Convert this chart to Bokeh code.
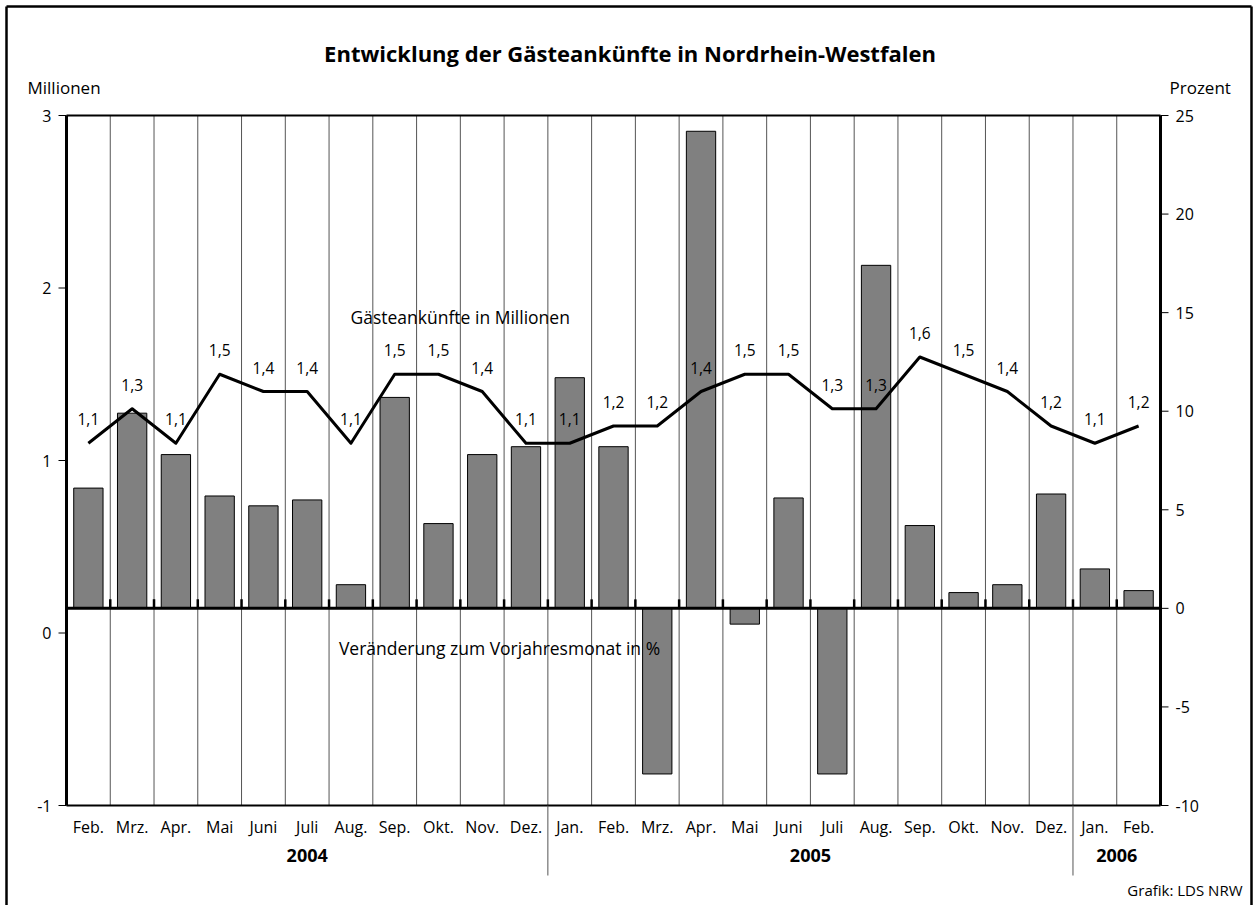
from bokeh.plotting import figure
from bokeh.models import Range1d
from bokeh.embed import file_html
from bokeh.resources import INLINE
from bokeh.core.properties import value

# ---------------- data ----------------
months = ["Feb.", "Mrz.", "Apr.", "Mai", "Juni", "Juli", "Aug.", "Sep.", "Okt.", "Nov.", "Dez.",
          "Jan.", "Feb.", "Mrz.", "Apr.", "Mai", "Juni", "Juli", "Aug.", "Sep.", "Okt.", "Nov.", "Dez.",
          "Jan.", "Feb."]
years = ["2004", "2005", "2006"]
months_per_year = [11, 12, 2]
arrivals_mio = [1.1, 1.3, 1.1, 1.5, 1.4, 1.4, 1.1, 1.5, 1.5, 1.4, 1.1,
                1.1, 1.2, 1.2, 1.4, 1.5, 1.5, 1.3, 1.3, 1.6, 1.5, 1.4, 1.2,
                1.1, 1.2]
change_pct = [6.1, 9.9, 7.8, 5.7, 5.2, 5.5, 1.2, 10.7, 4.3, 7.8, 8.2,
              11.7, 8.2, -8.4, 24.2, -0.8, 5.6, -8.4, 17.4, 4.2, 0.8, 1.2, 5.8,
              2.0, 0.9]
left_ticks = [-1, 0, 1, 2, 3]
right_ticks = [-10, -5, 0, 5, 10, 15, 20, 25]

title_text = "Entwicklung der Gästeankünfte in Nordrhein-Westfalen"
left_unit = "Millionen"
right_unit = "Prozent"
line_name = "Gästeankünfte in Millionen"
bar_name = "Veränderung zum Vorjahresmonat in %"
source_text = "Grafik: LDS NRW"

# ---------------- layout ----------------
FONT = "Open Sans"
N = len(months)
W, H = 1256, 905
PL, PR, PT, PB = 66, 1160, 115, 805          # plot area in pixels
LMIN, LMAX = left_ticks[0], left_ticks[-1]
RMIN, RMAX = right_ticks[0], right_ticks[-1]
xs = (PR - PL) / N
ls = (PB - PT) / (LMAX - LMIN)
rs = (PB - PT) / (RMAX - RMIN)

x_range = Range1d(-PL / xs, N + (W - PR) / xs)
y_range = Range1d(LMIN - (H - PB) / ls, LMAX + PT / ls)
pct_range = Range1d(RMIN - (H - PB) / rs, RMAX + PT / rs)

def dx(px):
    return (px - PL) / xs

def dy(py):
    return LMIN + (PB - py) / ls

centers = [i + 0.5 for i in range(N)]
bounds = list(range(1, N))
labels = [f"{v:.1f}".replace(".", ",") for v in arrivals_mio]

p = figure(width=W, height=H, x_range=x_range, y_range=y_range,
           output_backend="svg", toolbar_location=None,
           x_axis_location=None, y_axis_location=None,
           min_border=0, min_border_left=0, min_border_right=0,
           min_border_top=0, min_border_bottom=0)
p.extra_y_ranges = {"pct": pct_range}
p.xgrid.visible = False
p.ygrid.visible = False
p.outline_line_color = None
p.background_fill_color = "white"
p.border_fill_color = "white"

K = "black"

# outer frame
p.segment(x0=[dx(6), dx(1251), dx(6)], y0=[dy(6), dy(6), dy(6)],
          x1=[dx(6), dx(1251), dx(1251)], y1=[dy(910), dy(910), dy(6)],
          line_color=K, line_width=2.5)

# vertical grid lines at month boundaries
p.segment(x0=bounds, y0=[LMIN] * len(bounds), x1=bounds, y1=[LMAX] * len(bounds),
          line_color="#555555", line_width=1)

# bars: change vs previous year (right axis)
p.vbar(x=centers, top=change_pct, bottom=0, width=0.67, y_range_name="pct",
       fill_color="#808080", line_color=K, line_width=1)

# zero line of the percent axis with small ticks
p.segment(x0=[0], y0=[0], x1=[N], y1=[0], y_range_name="pct", line_color=K, line_width=3)
p.segment(x0=bounds, y0=[0] * len(bounds), x1=bounds, y1=[9 / rs] * len(bounds),
          y_range_name="pct", line_color=K, line_width=2.5)

# plot frame: top / bottom lines, thick side axes
p.segment(x0=[0, 0], y0=[LMIN, LMAX], x1=[N, N], y1=[LMIN, LMAX], line_color=K, line_width=2)
p.segment(x0=[0, N], y0=[LMIN, LMIN], x1=[0, N], y1=[LMAX, LMAX], line_color=K, line_width=3)

# left axis ticks + labels
p.segment(x0=[dx(PL - 8)] * len(left_ticks), y0=left_ticks, x1=[0] * len(left_ticks), y1=left_ticks,
          line_color=K, line_width=1)
p.text(x=[dx(PL - 15)] * len(left_ticks), y=left_ticks, text=[str(t) for t in left_ticks],
       text_align="right", text_baseline="middle", text_font=value(FONT),
       text_font_size="16px", text_color=K)

# right axis ticks + labels
p.segment(x0=[N] * len(right_ticks), y0=right_ticks, x1=[dx(PR + 8)] * len(right_ticks), y1=right_ticks,
          y_range_name="pct", line_color=K, line_width=1)
p.text(x=[dx(PR + 15)] * len(right_ticks), y=right_ticks, text=[str(t) for t in right_ticks],
       y_range_name="pct", text_align="left", text_baseline="middle", text_font=value(FONT),
       text_font_size="16px", text_color=K)

# month labels
p.text(x=centers, y=[dy(826)] * N, text=months, text_align="center", text_baseline="middle",
       text_font=value(FONT), text_font_size="16px", text_color=K)

# year separators and labels
starts = [0]
for c in months_per_year:
    starts.append(starts[-1] + c)
seps = starts[1:-1]
p.segment(x0=seps, y0=[LMIN] * len(seps), x1=seps, y1=[dy(875)] * len(seps),
          line_color="#555555", line_width=1)
p.text(x=[(a + b) / 2 for a, b in zip(starts[:-1], starts[1:])], y=[dy(855)] * len(years),
       text=years, text_align="center", text_baseline="middle", text_font=value(FONT),
       text_font_style="bold", text_font_size="18px", text_color=K)

# line: arrivals in millions (left axis)
p.line(centers, arrivals_mio, line_color=K, line_width=3, line_join="round")
p.text(centers, arrivals_mio, text=labels, y_offset=-24, text_align="center",
       text_baseline="middle", text_font=value(FONT), text_font_size="15.5px", text_color=K)

# free texts
def lab(x, y, t, align="center", size="17.5px", bold=False):
    p.text(x=[dx(x)], y=[dy(y)], text=[t], text_align=align, text_baseline="middle",
           text_font=value(FONT), text_font_size=size,
           text_font_style="bold" if bold else "normal", text_color=K)

lab(629.5, 52, title_text, size="22px", bold=True)
lab(27, 87, left_unit, align="left", size="17px")
lab(1169, 87, right_unit, align="left", size="17px")
lab(459.7, 316, line_name)
lab(499, 647, bar_name)
lab(1242, 889, source_text, align="right", size="15px")

open("out.html", "w").write(file_html(p, INLINE))
